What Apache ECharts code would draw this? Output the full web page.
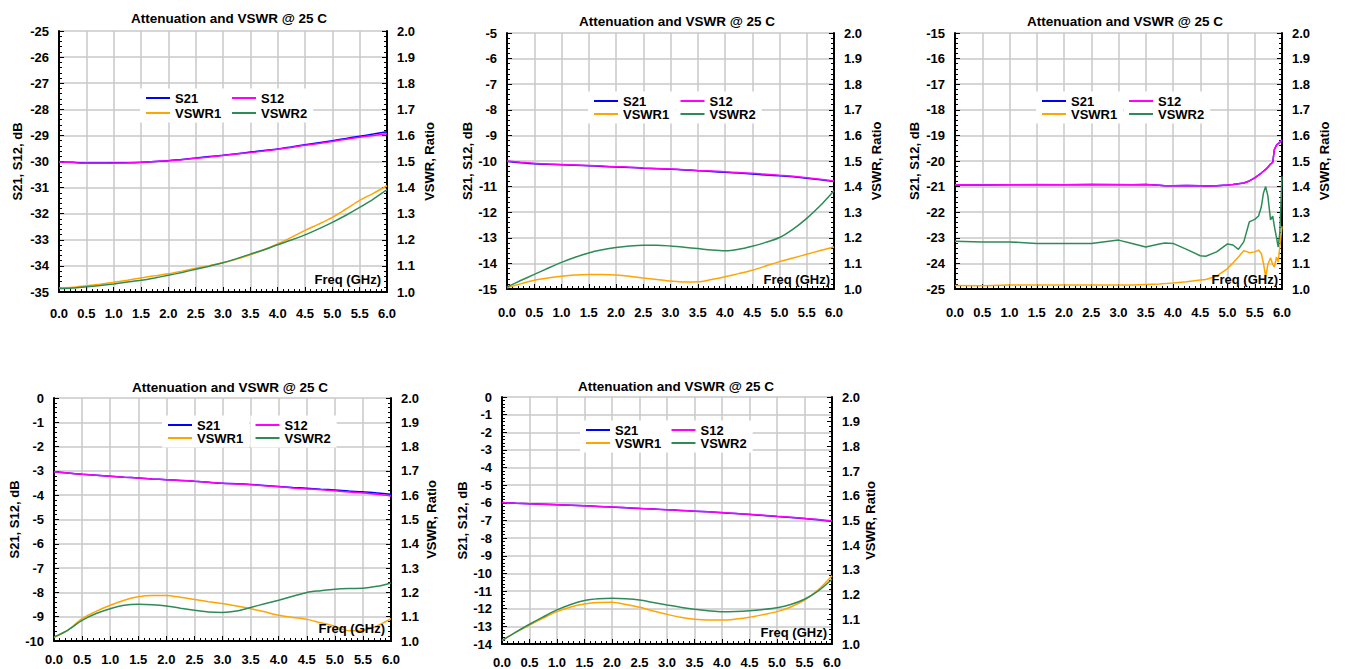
<!DOCTYPE html>
<html><head><meta charset="utf-8">
<script src="https://cdn.jsdelivr.net/npm/echarts@6/dist/echarts.min.js"></script>
<style>html,body{margin:0;padding:0;background:#fff}#c{width:1345px;height:669px}</style>
</head><body><div id="c"></div>
<script>
// ---------- data ----------
const titleText = 'Attenuation and VSWR @ 25 C';
const seriesNames = ['S21', 'S12', 'VSWR1', 'VSWR2'];
const xTickLabels = ['0.0','0.5','1.0','1.5','2.0','2.5','3.0','3.5','4.0','4.5','5.0','5.5','6.0'];
const vswrTickLabels = ['1.0','1.1','1.2','1.3','1.4','1.5','1.6','1.7','1.8','1.9','2.0'];

const freq = [0,0.25,0.5,0.75,1.0,1.25,1.5,1.75,2.0,2.25,2.5,2.75,3.0,3.25,3.5,3.75,4.0,4.25,4.5,4.75,5.0,5.25,5.5,5.75,6.0];

// Panel 1 (-35 .. -25 dB)
const s21_1 = [-30.02,-30.03,-30.06,-30.06,-30.05,-30.05,-30.03,-30.0,-29.97,-29.92,-29.87,-29.81,-29.76,-29.70,-29.64,-29.58,-29.52,-29.44,-29.36,-29.28,-29.20,-29.12,-29.03,-28.95,-28.86];
const s12_1 = [-30.02,-30.04,-30.07,-30.07,-30.06,-30.05,-30.03,-30.0,-29.97,-29.93,-29.88,-29.83,-29.77,-29.71,-29.66,-29.60,-29.53,-29.46,-29.38,-29.31,-29.23,-29.15,-29.07,-29.00,-28.94];
const vswr1_1 = [1.015,1.018,1.024,1.030,1.037,1.045,1.054,1.062,1.070,1.080,1.091,1.101,1.112,1.126,1.143,1.162,1.184,1.209,1.236,1.260,1.286,1.318,1.351,1.378,1.407];
const vswr2_1 = [1.013,1.015,1.020,1.025,1.031,1.038,1.045,1.054,1.064,1.075,1.087,1.099,1.112,1.128,1.145,1.162,1.181,1.199,1.219,1.242,1.267,1.294,1.324,1.356,1.392];

// Panel 2 (-15 .. -5 dB)
const s21_2 = [-10.02,-10.07,-10.11,-10.13,-10.15,-10.17,-10.19,-10.21,-10.23,-10.25,-10.28,-10.30,-10.32,-10.35,-10.38,-10.41,-10.44,-10.47,-10.51,-10.55,-10.58,-10.62,-10.67,-10.73,-10.80];
const s12_2 = [-10.00,-10.05,-10.09,-10.12,-10.14,-10.16,-10.18,-10.20,-10.22,-10.24,-10.27,-10.29,-10.31,-10.34,-10.37,-10.39,-10.42,-10.45,-10.48,-10.52,-10.56,-10.60,-10.65,-10.71,-10.78];
const vswr1_2 = [1.005,1.020,1.034,1.043,1.050,1.055,1.057,1.057,1.055,1.050,1.043,1.037,1.031,1.027,1.028,1.037,1.048,1.060,1.073,1.090,1.107,1.121,1.136,1.150,1.164];
const vswr2_2 = [1.008,1.033,1.057,1.081,1.104,1.124,1.141,1.153,1.162,1.168,1.171,1.171,1.168,1.163,1.158,1.152,1.149,1.155,1.167,1.182,1.201,1.234,1.276,1.326,1.384];

// Panel 3 (-25 .. -15 dB), non-uniform frequency points
const freq3 = [0.0,0.5,1.0,1.5,2.0,2.5,3.0,3.25,3.5,3.75,3.85,4.0,4.25,4.5,4.6,4.8,5.0,5.1,5.2,5.3,5.4,5.5,5.57,5.62,5.66,5.7,5.74,5.79,5.83,5.86,5.9,5.93,5.96,6.0];
const s21_3 = [-20.94,-20.94,-20.93,-20.93,-20.93,-20.92,-20.93,-20.93,-20.92,-20.95,-20.97,-20.97,-20.96,-20.97,-20.98,-20.97,-20.94,-20.92,-20.89,-20.86,-20.78,-20.66,-20.55,-20.47,-20.40,-20.33,-20.24,-20.12,-20.05,-19.55,-19.38,-19.32,-19.27,-19.18];
const s12_3 = [-20.93,-20.94,-20.93,-20.92,-20.93,-20.92,-20.92,-20.93,-20.92,-20.95,-20.97,-20.97,-20.96,-20.97,-20.98,-20.97,-20.94,-20.92,-20.89,-20.86,-20.78,-20.66,-20.55,-20.47,-20.40,-20.33,-20.24,-20.12,-20.05,-19.55,-19.38,-19.32,-19.27,-19.18];
const vswr1_3 = [1.014,1.013,1.016,1.016,1.016,1.016,1.016,1.016,1.018,1.020,1.021,1.023,1.028,1.035,1.037,1.050,1.080,1.102,1.125,1.150,1.142,1.145,1.152,1.139,1.100,1.047,1.095,1.122,1.095,1.086,1.125,1.105,1.165,1.245];
const vswr2_3 = [1.187,1.184,1.184,1.178,1.178,1.178,1.191,1.178,1.164,1.176,1.180,1.178,1.155,1.130,1.128,1.145,1.176,1.172,1.155,1.185,1.262,1.272,1.285,1.320,1.375,1.400,1.365,1.270,1.285,1.245,1.200,1.164,1.220,1.440];

// Panel 4 (-10 .. 0 dB)
const s21_4 = [-3.04,-3.09,-3.14,-3.18,-3.22,-3.26,-3.29,-3.33,-3.36,-3.39,-3.43,-3.47,-3.51,-3.53,-3.56,-3.60,-3.64,-3.68,-3.71,-3.75,-3.79,-3.83,-3.86,-3.91,-3.96];
const s12_4 = [-3.04,-3.09,-3.14,-3.18,-3.22,-3.26,-3.29,-3.33,-3.36,-3.39,-3.43,-3.47,-3.51,-3.54,-3.57,-3.61,-3.65,-3.70,-3.74,-3.78,-3.82,-3.87,-3.91,-3.96,-4.03];
const vswr1_4 = [1.014,1.045,1.092,1.122,1.147,1.168,1.182,1.187,1.187,1.180,1.171,1.162,1.154,1.144,1.133,1.120,1.106,1.097,1.089,1.075,1.061,1.042,1.044,1.062,1.092];
const vswr2_4 = [1.017,1.045,1.085,1.113,1.133,1.147,1.151,1.149,1.144,1.135,1.127,1.119,1.117,1.123,1.138,1.153,1.168,1.184,1.200,1.207,1.213,1.216,1.217,1.225,1.239];

// Panel 5 (-14 .. 0 dB)
const s21_5 = [-5.98,-6.02,-6.05,-6.08,-6.11,-6.14,-6.17,-6.20,-6.24,-6.28,-6.32,-6.35,-6.39,-6.43,-6.47,-6.51,-6.56,-6.61,-6.66,-6.71,-6.77,-6.83,-6.89,-6.96,-7.04];
const s12_5 = [-5.98,-6.02,-6.05,-6.08,-6.11,-6.14,-6.17,-6.20,-6.23,-6.27,-6.31,-6.35,-6.39,-6.43,-6.47,-6.51,-6.55,-6.60,-6.65,-6.70,-6.76,-6.82,-6.88,-6.95,-7.02];
const vswr1_5 = [1.014,1.047,1.077,1.105,1.131,1.150,1.162,1.168,1.169,1.160,1.149,1.134,1.120,1.108,1.100,1.097,1.097,1.101,1.108,1.119,1.131,1.150,1.178,1.219,1.276];
const vswr2_5 = [1.014,1.048,1.080,1.110,1.138,1.160,1.176,1.183,1.185,1.183,1.178,1.168,1.158,1.149,1.141,1.135,1.131,1.132,1.135,1.140,1.147,1.160,1.181,1.215,1.262];

const dbRanges = [[-35,-25],[-15,-5],[-25,-15],[-10,0],[-14,0]];

// ---------- layout / style ----------
const panels = [
  {f:freq,  d:[s21_1,s12_1,vswr1_1,vswr2_1], smooth:0.3, grid:{left:59,top:31,width:328,height:261}, title:[229,18], fq:[381,279], lg:[140,88.5], lgB:227, gap:2, xm:15, ngL:35.5, ngR:36},
  {f:freq,  d:[s21_2,s12_2,vswr1_2,vswr2_2], smooth:0.3, grid:{left:507,top:33,width:327,height:256}, title:[677,21], fq:[830,279], lg:[588,91.5], lgB:675.5, gap:0, xm:16.5, ngL:33.5, ngR:36},
  {f:freq3, d:[s21_3,s12_3,vswr1_3,vswr2_3], smooth:false, grid:{left:955,top:33,width:327,height:256}, title:[1125,21], fq:[1278,279], lg:[1036,91.5], lgB:1124, gap:0, xm:16.5, ngL:34.5, ngR:36},
  {f:freq,  d:[s21_4,s12_4,vswr1_4,vswr2_4], smooth:0.3, grid:{left:54,top:398,width:337,height:243}, title:[230,387], fq:[385,628], lg:[162,415.5], lgB:250.5, gap:0, xm:12, ngL:32.5, ngR:34},
  {f:freq,  d:[s21_5,s12_5,vswr1_5,vswr2_5], smooth:0.3, grid:{left:502,top:397,width:330,height:247}, title:[676,386], fq:[827,632], lg:[580,420.5], lgB:666.5, gap:0, xm:12, ngL:30.5, ngR:31}
];
const colors = ['#0000ff','#ff00ff','#ffa500','#2e8b57'];
const FONT = 'Liberation Sans, Arial, sans-serif';
const txt = {fontFamily: FONT, fontWeight: 'bold', fontSize: 13, color: '#000'};
const gridColor = '#c8c8c8';

const option = {
  animation: false,
  backgroundColor: '#fff',
  grid: [], xAxis: [], yAxis: [], series: [], legend: [], graphic: []
};

panels.forEach((p, i) => {
  option.grid.push(Object.assign({}, p.grid));
  option.xAxis.push({
    type: 'value', gridIndex: i, min: 0, max: 6, interval: 0.5,
    axisLine: {show: true, onZero: false, lineStyle: {color: '#000', width: 2}},
    axisTick: {show: true, inside: true, length: 5, lineStyle: {color: '#000', width: 1}},
    minorTick: {show: true, splitNumber: 5, length: 3, lineStyle: {color: '#000', width: 1}},
    splitLine: {show: true, lineStyle: {color: gridColor, width: 1.5}},
    axisLabel: Object.assign({margin: p.xm, formatter: v => xTickLabels[Math.round(v / 0.5)]}, txt)
  });
  const r = dbRanges[i];
  option.yAxis.push({
    type: 'value', gridIndex: i, position: 'left', min: r[0], max: r[1], interval: 1,
    name: 'S21, S12, dB', nameLocation: 'middle', nameGap: p.ngL, nameTextStyle: txt,
    axisLine: {show: true, onZero: false, lineStyle: {color: '#000', width: 2}},
    axisTick: {show: true, inside: true, length: 5, lineStyle: {color: '#000', width: 1}},
    minorTick: {show: true, splitNumber: 5, length: 3, lineStyle: {color: '#000', width: 1}},
    splitLine: {show: true, lineStyle: {color: gridColor, width: 1.5}},
    axisLabel: Object.assign({margin: 10, formatter: v => String(Math.round(v))}, txt)
  });
  option.yAxis.push({
    type: 'value', gridIndex: i, position: 'right', min: 1.0, max: 2.0, interval: 0.1,
    name: 'VSWR, Ratio', nameLocation: 'middle', nameGap: p.ngR, nameTextStyle: txt,
    axisLine: {show: true, onZero: false, lineStyle: {color: '#000', width: 2}},
    axisTick: {show: true, inside: true, length: 5, lineStyle: {color: '#000', width: 1}},
    minorTick: {show: true, splitNumber: 5, length: 3, lineStyle: {color: '#000', width: 1}},
    splitLine: {show: false},
    axisLabel: Object.assign({margin: 10, formatter: v => vswrTickLabels[Math.round((v - 1) * 10)]}, txt)
  });
  p.d.forEach((vals, k) => {
    option.series.push({
      name: seriesNames[k], type: 'line', xAxisIndex: i, yAxisIndex: 2 * i + (k < 2 ? 0 : 1),
      data: p.f.map((x, j) => [x, vals[j]]),
      symbol: 'none', showSymbol: false, smooth: p.smooth,
      lineStyle: {color: colors[k], width: 1.5}, itemStyle: {color: colors[k]},
      z: 2 + k
    });
  });
  const lgCommon = {
    orient: 'vertical', icon: 'rect', itemWidth: 24, itemHeight: 2, itemGap: p.gap,
    backgroundColor: '#fff', textStyle: txt, selectedMode: false, z: 10
  };
  option.legend.push(Object.assign({}, lgCommon, {
    data: ['S21', 'VSWR1'], left: p.lg[0], top: p.lg[1], padding: [3, 6, 3, 6]
  }));
  option.legend.push(Object.assign({}, lgCommon, {
    data: ['S12', 'VSWR2'], left: p.lgB, top: p.lg[1], padding: [3, 6, 3, 5]
  }));
  option.graphic.push({
    type: 'text', x: p.title[0], y: p.title[1], z: 20,
    style: {text: titleText, font: 'bold 13.5px ' + FONT, fill: '#000', textAlign: 'center', textVerticalAlign: 'middle'}
  });
  option.graphic.push({
    type: 'text', x: p.fq[0], y: p.fq[1], z: 20,
    style: {text: 'Freq (GHz)', font: 'bold 13px ' + FONT, fill: '#000', textAlign: 'right', textVerticalAlign: 'middle'}
  });
});

const chart = echarts.init(document.getElementById('c'), null, {renderer: 'svg', width: 1345, height: 669});
chart.setOption(option);
</script>
</body></html>
